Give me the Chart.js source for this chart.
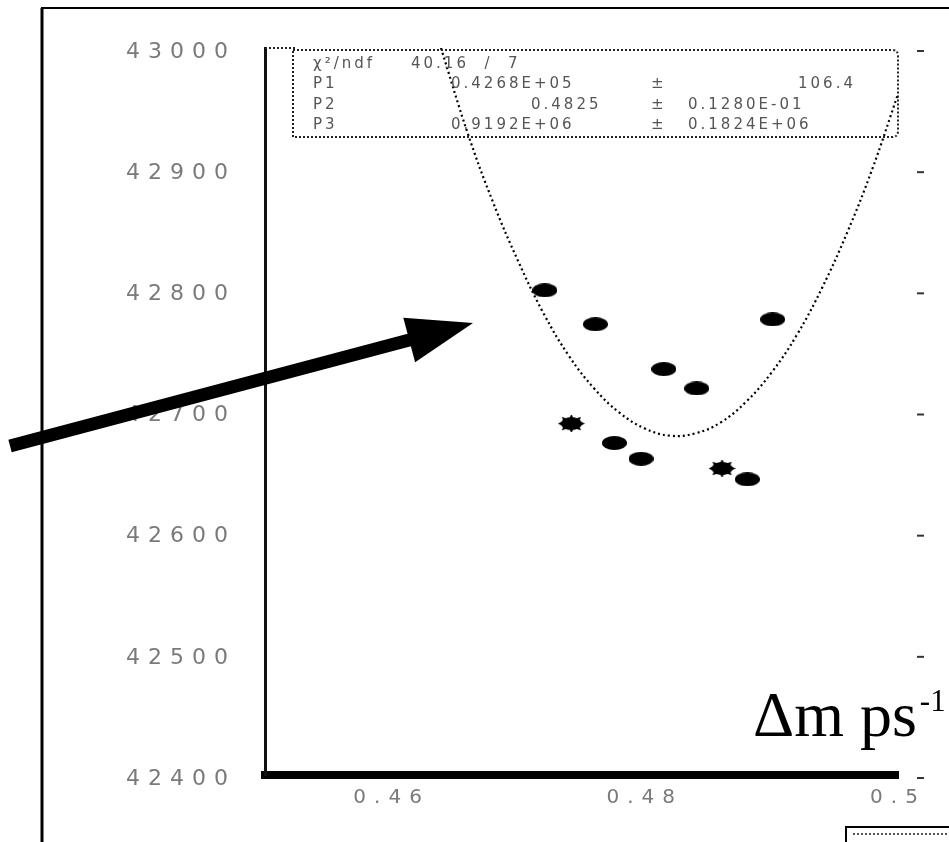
<!DOCTYPE html>
<html>
<head>
<meta charset="utf-8">
<script src="https://cdn.jsdelivr.net/npm/chart.js@4/dist/chart.umd.min.js"></script>
<style>
  html, body { margin: 0; padding: 0; background: #fff; }
  #wrap { width: 949px; height: 842px; }
</style>
</head>
<body>
<div id="wrap"><canvas id="c" width="949" height="842"></canvas></div>
<script>
// Measured points (Δm vs. fit result)
const roundX = [0.4721, 0.4761, 0.4901, 0.4815, 0.4841, 0.4776, 0.4797, 0.4881];
const roundY = [42800, 42772, 42776, 42735, 42719, 42674, 42661, 42644];
const starX = [0.4742, 0.4861];
const starY = [42690, 42653];

// Parabolic fit curve, sampled
const fitX = [0.4639, 0.466, 0.468, 0.470, 0.472, 0.474, 0.476, 0.478, 0.480, 0.482,
              0.484, 0.486, 0.488, 0.490, 0.492, 0.494, 0.496, 0.498, 0.500];
const fitY = [43000, 42930, 42873, 42824, 42781, 42746, 42719, 42699, 42686, 42680,
              42682, 42691, 42708, 42732, 42763, 42802, 42848, 42901, 42962];

// Axis ticks
const xTickValues = [0.46, 0.48, 0.50];
const xTickLabels = ['0.46', '0.48', '0.5'];
const yTickValues = [42400, 42500, 42600, 42700, 42800, 42900, 43000];

// Fit statistics box rows
const statNames = ['χ²/ndf', 'P1', 'P2', 'P3'];
const statValues = ['40.16  /  7', '0.4268E+05', '0.4825', '0.9192E+06'];
const statErrors = ['', '106.4', '0.1280E-01', '0.1824E+06'];

// Arrow annotation (data coordinates: tail -> tip)
const arrowFrom = { x: 0.42986, y: 42671.5 };
const arrowTo = { x: 0.46643, y: 42773 };

const axisTitle = 'Δm ps';
const axisTitleSup = '-1';

function makeBlob(w, h, spiky) {
  const cv = document.createElement('canvas');
  cv.width = w; cv.height = h;
  const g = cv.getContext('2d');
  g.fillStyle = '#000';
  const cx = w / 2, cy = h / 2;
  g.beginPath();
  g.ellipse(cx, cy, spiky ? w / 2 - 3 : w / 2, spiky ? h / 2 - 2 : h / 2, 0, 0, Math.PI * 2);
  g.fill();
  if (spiky) {
    for (let i = 0; i < 8; i++) {
      const a = i * Math.PI / 4;
      const ex = cx + Math.cos(a) * (w / 2), ey = cy + Math.sin(a) * (h / 2 + 1);
      const px = -Math.sin(a) * 2.5, py = Math.cos(a) * 2.5;
      g.beginPath();
      g.moveTo(cx + Math.cos(a) * (w / 2 - 5) + px, cy + Math.sin(a) * (h / 2 - 4) + py);
      g.lineTo(ex, ey);
      g.lineTo(cx + Math.cos(a) * (w / 2 - 5) - px, cy + Math.sin(a) * (h / 2 - 4) - py);
      g.closePath();
      g.fill();
    }
  }
  return cv;
}
const roundMarker = makeBlob(25, 14, false);
const starMarker = makeBlob(27, 17, true);

const TICK_SPACING = '8px';

const decor = {
  id: 'decor',
  beforeDraw(chart) {
    const ctx = chart.ctx;
    ctx.save();
    ctx.fillStyle = '#fff';
    ctx.fillRect(0, 0, chart.width, chart.height);
    ctx.restore();
    ctx.letterSpacing = TICK_SPACING;
  },
  beforeDatasetsDraw(chart) {
    chart.ctx.letterSpacing = '0px';
  },
  afterDraw(chart) {
    const ctx = chart.ctx;
    const a = chart.chartArea;
    const xs = chart.scales.x, ys = chart.scales.y;
    ctx.save();
    ctx.letterSpacing = '0px';

    // outer frame
    ctx.strokeStyle = '#000';
    ctx.lineWidth = 3;
    ctx.beginPath();
    ctx.moveTo(42, 842); ctx.lineTo(42, 8); ctx.stroke();
    ctx.lineWidth = 2;
    ctx.beginPath();
    ctx.moveTo(41, 8); ctx.lineTo(949, 8); ctx.stroke();

    // dotted top edge of the frame
    ctx.setLineDash([2, 2]);
    ctx.lineWidth = 2;
    ctx.strokeStyle = '#222';
    ctx.beginPath();
    ctx.moveTo(a.left, a.top); ctx.lineTo(a.left + 30, a.top); ctx.stroke();

    // statistics box
    const bx = a.left + 28, by = a.top + 2, bw = a.right - bx, bh = 87;
    ctx.beginPath();
    ctx.moveTo(bx, by);
    ctx.lineTo(bx + bw - 6, by);
    ctx.quadraticCurveTo(bx + bw, by, bx + bw, by + 6);
    ctx.lineTo(bx + bw, by + bh - 6);
    ctx.quadraticCurveTo(bx + bw, by + bh, bx + bw - 6, by + bh);
    ctx.lineTo(bx, by + bh);
    ctx.closePath();
    ctx.stroke();
    ctx.setLineDash([]);

    ctx.fillStyle = '#555';
    ctx.font = '15px "DejaVu Sans"';
    ctx.letterSpacing = '3px';
    ctx.textBaseline = 'middle';
    const rowY = [by + 14, by + 34, by + 55, by + 75];
    for (let i = 0; i < statNames.length; i++) {
      ctx.textAlign = 'left';
      ctx.fillText(statNames[i], bx + 20, rowY[i]);
      const vx = i === 0 ? bx + 118 : (i === 2 ? bx + 238 : bx + 158);
      ctx.fillText(statValues[i], vx, rowY[i]);
      if (statErrors[i]) {
        ctx.fillText('±', bx + 358, rowY[i]);
        const ex = i === 1 ? bx + 505 : bx + 395;
        ctx.fillText(statErrors[i], ex, rowY[i]);
      }
    }
    ctx.letterSpacing = '0px';

    // right-hand tick marks
    ctx.strokeStyle = '#333';
    ctx.lineWidth = 2;
    yTickValues.forEach(v => {
      const py = ys.getPixelForValue(v) + 3;
      ctx.beginPath();
      ctx.moveTo(917, py); ctx.lineTo(924, py); ctx.stroke();
    });

    // axis title
    ctx.fillStyle = '#000';
    ctx.textAlign = 'left';
    ctx.textBaseline = 'alphabetic';
    ctx.font = '64px "Liberation Serif"';
    const tx = 753, ty = 736;
    ctx.fillText(axisTitle, tx, ty);
    const tw = ctx.measureText(axisTitle).width;
    ctx.font = '31px "Liberation Serif"';
    ctx.fillText(axisTitleSup, tx + tw + 3, ty - 25);

    // small box in the bottom-right corner
    ctx.strokeStyle = '#000';
    ctx.lineWidth = 2;
    ctx.strokeRect(846, 827, 120, 40);
    ctx.setLineDash([2, 2]);
    ctx.lineWidth = 2;
    ctx.strokeStyle = '#555';
    ctx.beginPath();
    ctx.moveTo(853, 834); ctx.lineTo(949, 834); ctx.stroke();
    ctx.setLineDash([]);

    // arrow
    const x0 = xs.getPixelForValue(arrowFrom.x), y0 = ys.getPixelForValue(arrowFrom.y);
    const x1 = xs.getPixelForValue(arrowTo.x), y1 = ys.getPixelForValue(arrowTo.y);
    const ang = Math.atan2(y1 - y0, x1 - x0);
    const headLen = 66, headHalf = 23, shaft = 13;
    const bxp = x1 - Math.cos(ang) * headLen, byp = y1 - Math.sin(ang) * headLen;
    ctx.strokeStyle = '#000';
    ctx.lineWidth = shaft;
    ctx.lineCap = 'butt';
    ctx.beginPath();
    ctx.moveTo(x0, y0);
    ctx.lineTo(bxp + Math.cos(ang) * 4, byp + Math.sin(ang) * 4);
    ctx.stroke();
    ctx.fillStyle = '#000';
    ctx.beginPath();
    ctx.moveTo(x1, y1);
    ctx.lineTo(bxp - Math.sin(ang) * headHalf, byp + Math.cos(ang) * headHalf);
    ctx.lineTo(bxp + Math.sin(ang) * headHalf, byp - Math.cos(ang) * headHalf);
    ctx.closePath();
    ctx.fill();

    ctx.restore();
  }
};

new Chart(document.getElementById('c'), {
  type: 'scatter',
  data: {
    datasets: [
      {
        label: 'points',
        data: roundX.map((x, i) => ({ x, y: roundY[i] })),
        pointStyle: roundMarker,
        pointRadius: 7,
        order: 1
      },
      {
        label: 'points (alt)',
        data: starX.map((x, i) => ({ x, y: starY[i] })),
        pointStyle: starMarker,
        pointRadius: 8,
        order: 1
      },
      {
        type: 'line',
        label: 'fit',
        data: fitX.map((x, i) => ({ x, y: fitY[i] })),
        borderColor: '#000',
        borderWidth: 2.2,
        borderDash: [2, 3],
        pointRadius: 0,
        tension: 0.4,
        fill: false,
        order: 2
      }
    ]
  },
  plugins: [decor],
  options: {
    responsive: false,
    animation: false,
    events: [],
    layout: { padding: { left: 0, top: 48, right: 51, bottom: 0 } },
    plugins: { legend: { display: false }, tooltip: { enabled: false } },
    scales: {
      x: {
        type: 'linear',
        min: 0.45,
        max: 0.50,
        afterBuildTicks: s => { s.ticks = xTickValues.map(v => ({ value: v })); },
        afterFit: s => { s.height = 67; },
        grid: { display: false, drawTicks: false },
        border: { display: true, color: '#000', width: 8 },
        ticks: {
          padding: 11,
          autoSkip: false,
          maxRotation: 0,
          color: '#7a7a7a',
          font: { family: 'DejaVu Sans', size: 20 },
          callback: (v) => {
            const i = xTickValues.findIndex(t => Math.abs(t - v) < 1e-9);
            return i >= 0 ? xTickLabels[i] : '';
          }
        }
      },
      y: {
        type: 'linear',
        min: 42400,
        max: 43000,
        afterBuildTicks: s => { s.ticks = yTickValues.map(v => ({ value: v })); },
        afterFit: s => { s.width = 265; },
        grid: { display: false, drawTicks: false },
        border: { display: true, color: '#111', width: 3, dash: [2, 2] },
        ticks: {
          padding: 29,
          labelOffset: 4,
          color: '#7a7a7a',
          font: { family: 'DejaVu Sans', size: 22 },
          callback: v => String(v)
        }
      }
    }
  }
});
</script>
</body>
</html>
